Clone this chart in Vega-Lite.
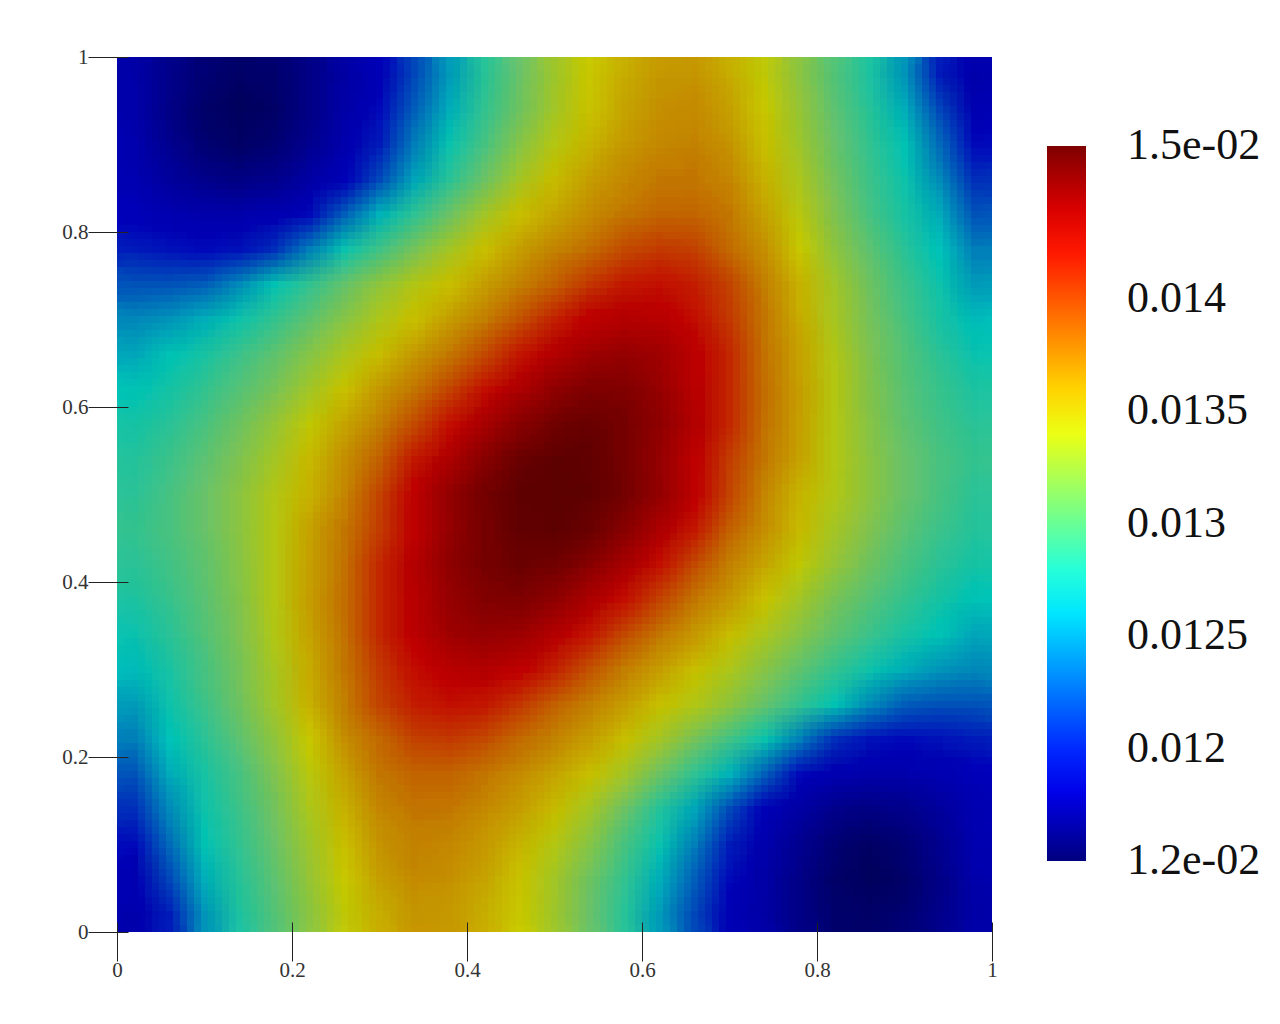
{"$schema":"https://vega.github.io/schema/vega-lite/v6.json","autosize":{"type":"none"},"padding":{"left":117,"top":57,"right":288,"bottom":92},"width":875,"height":875,"background":"white","view":{"stroke":null},"data":{"values":[
{"x":0.02,"y":0.98,"v":0.01185},{"x":0.06,"y":0.98,"v":0.0117},{"x":0.1,"y":0.98,"v":0.0116},{"x":0.14,"y":0.98,"v":0.01155},{"x":0.18,"y":0.98,"v":0.01158},{"x":0.22,"y":0.98,"v":0.01168},{"x":0.26,"y":0.98,"v":0.01182},{"x":0.3,"y":0.98,"v":0.01197},{"x":0.34,"y":0.98,"v":0.01219},{"x":0.38,"y":0.98,"v":0.0124},{"x":0.42,"y":0.98,"v":0.0127},{"x":0.46,"y":0.98,"v":0.013},{"x":0.5,"y":0.98,"v":0.01328},{"x":0.54,"y":0.98,"v":0.0135},{"x":0.58,"y":0.98,"v":0.01364},{"x":0.62,"y":0.98,"v":0.01374},{"x":0.66,"y":0.98,"v":0.01377},{"x":0.7,"y":0.98,"v":0.01364},{"x":0.74,"y":0.98,"v":0.01345},{"x":0.78,"y":0.98,"v":0.01318},{"x":0.82,"y":0.98,"v":0.0129},{"x":0.86,"y":0.98,"v":0.01265},{"x":0.9,"y":0.98,"v":0.01238},{"x":0.94,"y":0.98,"v":0.01208},{"x":0.98,"y":0.98,"v":0.01188},
{"x":0.02,"y":0.94,"v":0.01187},{"x":0.06,"y":0.94,"v":0.01168},{"x":0.1,"y":0.94,"v":0.01156},{"x":0.14,"y":0.94,"v":0.0115},{"x":0.18,"y":0.94,"v":0.01155},{"x":0.22,"y":0.94,"v":0.01168},{"x":0.26,"y":0.94,"v":0.01185},{"x":0.3,"y":0.94,"v":0.01203},{"x":0.34,"y":0.94,"v":0.01225},{"x":0.38,"y":0.94,"v":0.01245},{"x":0.42,"y":0.94,"v":0.01275},{"x":0.46,"y":0.94,"v":0.01303},{"x":0.5,"y":0.94,"v":0.0133},{"x":0.54,"y":0.94,"v":0.01352},{"x":0.58,"y":0.94,"v":0.01369},{"x":0.62,"y":0.94,"v":0.01379},{"x":0.66,"y":0.94,"v":0.01382},{"x":0.7,"y":0.94,"v":0.01371},{"x":0.74,"y":0.94,"v":0.0135},{"x":0.78,"y":0.94,"v":0.01323},{"x":0.82,"y":0.94,"v":0.01295},{"x":0.86,"y":0.94,"v":0.0127},{"x":0.9,"y":0.94,"v":0.01245},{"x":0.94,"y":0.94,"v":0.01219},{"x":0.98,"y":0.94,"v":0.01194},
{"x":0.02,"y":0.9,"v":0.01191},{"x":0.06,"y":0.9,"v":0.01172},{"x":0.1,"y":0.9,"v":0.0116},{"x":0.14,"y":0.9,"v":0.01154},{"x":0.18,"y":0.9,"v":0.0116},{"x":0.22,"y":0.9,"v":0.01172},{"x":0.26,"y":0.9,"v":0.01189},{"x":0.3,"y":0.9,"v":0.01208},{"x":0.34,"y":0.9,"v":0.01232},{"x":0.38,"y":0.9,"v":0.01256},{"x":0.42,"y":0.9,"v":0.01285},{"x":0.46,"y":0.9,"v":0.01315},{"x":0.5,"y":0.9,"v":0.0134},{"x":0.54,"y":0.9,"v":0.0136},{"x":0.58,"y":0.9,"v":0.01375},{"x":0.62,"y":0.9,"v":0.01384},{"x":0.66,"y":0.9,"v":0.01387},{"x":0.7,"y":0.9,"v":0.01378},{"x":0.74,"y":0.9,"v":0.01355},{"x":0.78,"y":0.9,"v":0.01328},{"x":0.82,"y":0.9,"v":0.013},{"x":0.86,"y":0.9,"v":0.01275},{"x":0.9,"y":0.9,"v":0.01253},{"x":0.94,"y":0.9,"v":0.01228},{"x":0.98,"y":0.9,"v":0.01203},
{"x":0.02,"y":0.86,"v":0.01193},{"x":0.06,"y":0.86,"v":0.01178},{"x":0.1,"y":0.86,"v":0.0117},{"x":0.14,"y":0.86,"v":0.01167},{"x":0.18,"y":0.86,"v":0.01171},{"x":0.22,"y":0.86,"v":0.01182},{"x":0.26,"y":0.86,"v":0.01198},{"x":0.3,"y":0.86,"v":0.0122},{"x":0.34,"y":0.86,"v":0.01243},{"x":0.38,"y":0.86,"v":0.01271},{"x":0.42,"y":0.86,"v":0.01302},{"x":0.46,"y":0.86,"v":0.01332},{"x":0.5,"y":0.86,"v":0.01357},{"x":0.54,"y":0.86,"v":0.01372},{"x":0.58,"y":0.86,"v":0.01383},{"x":0.62,"y":0.86,"v":0.01391},{"x":0.66,"y":0.86,"v":0.01393},{"x":0.7,"y":0.86,"v":0.01385},{"x":0.74,"y":0.86,"v":0.01362},{"x":0.78,"y":0.86,"v":0.01335},{"x":0.82,"y":0.86,"v":0.01305},{"x":0.86,"y":0.86,"v":0.0128},{"x":0.9,"y":0.86,"v":0.01258},{"x":0.94,"y":0.86,"v":0.01236},{"x":0.98,"y":0.86,"v":0.01213},
{"x":0.02,"y":0.82,"v":0.012},{"x":0.06,"y":0.82,"v":0.01192},{"x":0.1,"y":0.82,"v":0.01188},{"x":0.14,"y":0.82,"v":0.01187},{"x":0.18,"y":0.82,"v":0.01192},{"x":0.22,"y":0.82,"v":0.01203},{"x":0.26,"y":0.82,"v":0.01225},{"x":0.3,"y":0.82,"v":0.01246},{"x":0.34,"y":0.82,"v":0.01274},{"x":0.38,"y":0.82,"v":0.01302},{"x":0.42,"y":0.82,"v":0.0133},{"x":0.46,"y":0.82,"v":0.01355},{"x":0.5,"y":0.82,"v":0.01368},{"x":0.54,"y":0.82,"v":0.01382},{"x":0.58,"y":0.82,"v":0.01393},{"x":0.62,"y":0.82,"v":0.01401},{"x":0.66,"y":0.82,"v":0.01401},{"x":0.7,"y":0.82,"v":0.01392},{"x":0.74,"y":0.82,"v":0.0137},{"x":0.78,"y":0.82,"v":0.01342},{"x":0.82,"y":0.82,"v":0.01312},{"x":0.86,"y":0.82,"v":0.01285},{"x":0.9,"y":0.82,"v":0.01263},{"x":0.94,"y":0.82,"v":0.01244},{"x":0.98,"y":0.82,"v":0.01222},
{"x":0.02,"y":0.78,"v":0.01208},{"x":0.06,"y":0.78,"v":0.01205},{"x":0.1,"y":0.78,"v":0.01203},{"x":0.14,"y":0.78,"v":0.01205},{"x":0.18,"y":0.78,"v":0.01213},{"x":0.22,"y":0.78,"v":0.01232},{"x":0.26,"y":0.78,"v":0.01256},{"x":0.3,"y":0.78,"v":0.01282},{"x":0.34,"y":0.78,"v":0.01307},{"x":0.38,"y":0.78,"v":0.01332},{"x":0.42,"y":0.78,"v":0.01355},{"x":0.46,"y":0.78,"v":0.01372},{"x":0.5,"y":0.78,"v":0.01386},{"x":0.54,"y":0.78,"v":0.01398},{"x":0.58,"y":0.78,"v":0.01408},{"x":0.62,"y":0.78,"v":0.01413},{"x":0.66,"y":0.78,"v":0.01411},{"x":0.7,"y":0.78,"v":0.014},{"x":0.74,"y":0.78,"v":0.0138},{"x":0.78,"y":0.78,"v":0.0135},{"x":0.82,"y":0.78,"v":0.0132},{"x":0.86,"y":0.78,"v":0.01295},{"x":0.9,"y":0.78,"v":0.01272},{"x":0.94,"y":0.78,"v":0.0125},{"x":0.98,"y":0.78,"v":0.01232},
{"x":0.02,"y":0.74,"v":0.01222},{"x":0.06,"y":0.74,"v":0.01222},{"x":0.1,"y":0.74,"v":0.01224},{"x":0.14,"y":0.74,"v":0.01236},{"x":0.18,"y":0.74,"v":0.01254},{"x":0.22,"y":0.74,"v":0.01275},{"x":0.26,"y":0.74,"v":0.01298},{"x":0.3,"y":0.74,"v":0.0132},{"x":0.34,"y":0.74,"v":0.01338},{"x":0.38,"y":0.74,"v":0.01355},{"x":0.42,"y":0.74,"v":0.01372},{"x":0.46,"y":0.74,"v":0.01388},{"x":0.5,"y":0.74,"v":0.01402},{"x":0.54,"y":0.74,"v":0.01414},{"x":0.58,"y":0.74,"v":0.01422},{"x":0.62,"y":0.74,"v":0.01425},{"x":0.66,"y":0.74,"v":0.01421},{"x":0.7,"y":0.74,"v":0.0141},{"x":0.74,"y":0.74,"v":0.0139},{"x":0.78,"y":0.74,"v":0.01362},{"x":0.82,"y":0.74,"v":0.0133},{"x":0.86,"y":0.74,"v":0.01303},{"x":0.9,"y":0.74,"v":0.0128},{"x":0.94,"y":0.74,"v":0.01258},{"x":0.98,"y":0.74,"v":0.0124},
{"x":0.02,"y":0.7,"v":0.01235},{"x":0.06,"y":0.7,"v":0.01238},{"x":0.1,"y":0.7,"v":0.01245},{"x":0.14,"y":0.7,"v":0.01258},{"x":0.18,"y":0.7,"v":0.01276},{"x":0.22,"y":0.7,"v":0.01296},{"x":0.26,"y":0.7,"v":0.01316},{"x":0.3,"y":0.7,"v":0.01336},{"x":0.34,"y":0.7,"v":0.01354},{"x":0.38,"y":0.7,"v":0.01372},{"x":0.42,"y":0.7,"v":0.0139},{"x":0.46,"y":0.7,"v":0.01406},{"x":0.5,"y":0.7,"v":0.0142},{"x":0.54,"y":0.7,"v":0.01431},{"x":0.58,"y":0.7,"v":0.01436},{"x":0.62,"y":0.7,"v":0.01434},{"x":0.66,"y":0.7,"v":0.01426},{"x":0.7,"y":0.7,"v":0.01413},{"x":0.74,"y":0.7,"v":0.01392},{"x":0.78,"y":0.7,"v":0.01365},{"x":0.82,"y":0.7,"v":0.01333},{"x":0.86,"y":0.7,"v":0.01307},{"x":0.9,"y":0.7,"v":0.01285},{"x":0.94,"y":0.7,"v":0.01264},{"x":0.98,"y":0.7,"v":0.01248},
{"x":0.02,"y":0.66,"v":0.01243},{"x":0.06,"y":0.66,"v":0.01252},{"x":0.1,"y":0.66,"v":0.01264},{"x":0.14,"y":0.66,"v":0.01279},{"x":0.18,"y":0.66,"v":0.01296},{"x":0.22,"y":0.66,"v":0.01315},{"x":0.26,"y":0.66,"v":0.01335},{"x":0.3,"y":0.66,"v":0.01356},{"x":0.34,"y":0.66,"v":0.01375},{"x":0.38,"y":0.66,"v":0.01392},{"x":0.42,"y":0.66,"v":0.01408},{"x":0.46,"y":0.66,"v":0.01423},{"x":0.5,"y":0.66,"v":0.01435},{"x":0.54,"y":0.66,"v":0.01444},{"x":0.58,"y":0.66,"v":0.01447},{"x":0.62,"y":0.66,"v":0.01443},{"x":0.66,"y":0.66,"v":0.01433},{"x":0.7,"y":0.66,"v":0.01418},{"x":0.74,"y":0.66,"v":0.01396},{"x":0.78,"y":0.66,"v":0.0137},{"x":0.82,"y":0.66,"v":0.01338},{"x":0.86,"y":0.66,"v":0.0131},{"x":0.9,"y":0.66,"v":0.0129},{"x":0.94,"y":0.66,"v":0.01272},{"x":0.98,"y":0.66,"v":0.01256},
{"x":0.02,"y":0.62,"v":0.01252},{"x":0.06,"y":0.62,"v":0.01262},{"x":0.1,"y":0.62,"v":0.01276},{"x":0.14,"y":0.62,"v":0.01291},{"x":0.18,"y":0.62,"v":0.01308},{"x":0.22,"y":0.62,"v":0.0133},{"x":0.26,"y":0.62,"v":0.01353},{"x":0.3,"y":0.62,"v":0.01375},{"x":0.34,"y":0.62,"v":0.01393},{"x":0.38,"y":0.62,"v":0.0141},{"x":0.42,"y":0.62,"v":0.01425},{"x":0.46,"y":0.62,"v":0.01438},{"x":0.5,"y":0.62,"v":0.01449},{"x":0.54,"y":0.62,"v":0.01456},{"x":0.58,"y":0.62,"v":0.01454},{"x":0.62,"y":0.62,"v":0.01446},{"x":0.66,"y":0.62,"v":0.01434},{"x":0.7,"y":0.62,"v":0.01418},{"x":0.74,"y":0.62,"v":0.01397},{"x":0.78,"y":0.62,"v":0.01372},{"x":0.82,"y":0.62,"v":0.0134},{"x":0.86,"y":0.62,"v":0.01313},{"x":0.9,"y":0.62,"v":0.01293},{"x":0.94,"y":0.62,"v":0.01277},{"x":0.98,"y":0.62,"v":0.01265},
{"x":0.02,"y":0.58,"v":0.01262},{"x":0.06,"y":0.58,"v":0.01272},{"x":0.1,"y":0.58,"v":0.01286},{"x":0.14,"y":0.58,"v":0.01303},{"x":0.18,"y":0.58,"v":0.01323},{"x":0.22,"y":0.58,"v":0.01346},{"x":0.26,"y":0.58,"v":0.01368},{"x":0.3,"y":0.58,"v":0.01388},{"x":0.34,"y":0.58,"v":0.01408},{"x":0.38,"y":0.58,"v":0.01425},{"x":0.42,"y":0.58,"v":0.0144},{"x":0.46,"y":0.58,"v":0.01452},{"x":0.5,"y":0.58,"v":0.0146},{"x":0.54,"y":0.58,"v":0.01463},{"x":0.58,"y":0.58,"v":0.01458},{"x":0.62,"y":0.58,"v":0.01449},{"x":0.66,"y":0.58,"v":0.01435},{"x":0.7,"y":0.58,"v":0.01418},{"x":0.74,"y":0.58,"v":0.01396},{"x":0.78,"y":0.58,"v":0.01371},{"x":0.82,"y":0.58,"v":0.0134},{"x":0.86,"y":0.58,"v":0.01315},{"x":0.9,"y":0.58,"v":0.01296},{"x":0.94,"y":0.58,"v":0.01282},{"x":0.98,"y":0.58,"v":0.01272},
{"x":0.02,"y":0.54,"v":0.01268},{"x":0.06,"y":0.54,"v":0.01279},{"x":0.1,"y":0.54,"v":0.01294},{"x":0.14,"y":0.54,"v":0.01312},{"x":0.18,"y":0.54,"v":0.01332},{"x":0.22,"y":0.54,"v":0.01358},{"x":0.26,"y":0.54,"v":0.0138},{"x":0.3,"y":0.54,"v":0.01402},{"x":0.34,"y":0.54,"v":0.01422},{"x":0.38,"y":0.54,"v":0.01438},{"x":0.42,"y":0.54,"v":0.01452},{"x":0.46,"y":0.54,"v":0.01462},{"x":0.5,"y":0.54,"v":0.01467},{"x":0.54,"y":0.54,"v":0.01465},{"x":0.58,"y":0.54,"v":0.01458},{"x":0.62,"y":0.54,"v":0.01447},{"x":0.66,"y":0.54,"v":0.01431},{"x":0.7,"y":0.54,"v":0.01412},{"x":0.74,"y":0.54,"v":0.01392},{"x":0.78,"y":0.54,"v":0.0137},{"x":0.82,"y":0.54,"v":0.0134},{"x":0.86,"y":0.54,"v":0.01318},{"x":0.9,"y":0.54,"v":0.013},{"x":0.94,"y":0.54,"v":0.01286},{"x":0.98,"y":0.54,"v":0.01276},
{"x":0.02,"y":0.5,"v":0.01272},{"x":0.06,"y":0.5,"v":0.01285},{"x":0.1,"y":0.5,"v":0.013},{"x":0.14,"y":0.5,"v":0.01318},{"x":0.18,"y":0.5,"v":0.01338},{"x":0.22,"y":0.5,"v":0.0136},{"x":0.26,"y":0.5,"v":0.01385},{"x":0.3,"y":0.5,"v":0.0141},{"x":0.34,"y":0.5,"v":0.01432},{"x":0.38,"y":0.5,"v":0.01448},{"x":0.42,"y":0.5,"v":0.01459},{"x":0.46,"y":0.5,"v":0.01466},{"x":0.5,"y":0.5,"v":0.01468},{"x":0.54,"y":0.5,"v":0.01466},{"x":0.58,"y":0.5,"v":0.01459},{"x":0.62,"y":0.5,"v":0.01448},{"x":0.66,"y":0.5,"v":0.01432},{"x":0.7,"y":0.5,"v":0.0141},{"x":0.74,"y":0.5,"v":0.01385},{"x":0.78,"y":0.5,"v":0.0136},{"x":0.82,"y":0.5,"v":0.01338},{"x":0.86,"y":0.5,"v":0.01318},{"x":0.9,"y":0.5,"v":0.013},{"x":0.94,"y":0.5,"v":0.01285},{"x":0.98,"y":0.5,"v":0.01272},
{"x":0.02,"y":0.46,"v":0.01276},{"x":0.06,"y":0.46,"v":0.01286},{"x":0.1,"y":0.46,"v":0.013},{"x":0.14,"y":0.46,"v":0.01318},{"x":0.18,"y":0.46,"v":0.0134},{"x":0.22,"y":0.46,"v":0.0137},{"x":0.26,"y":0.46,"v":0.01392},{"x":0.3,"y":0.46,"v":0.01412},{"x":0.34,"y":0.46,"v":0.01431},{"x":0.38,"y":0.46,"v":0.01447},{"x":0.42,"y":0.46,"v":0.01458},{"x":0.46,"y":0.46,"v":0.01465},{"x":0.5,"y":0.46,"v":0.01467},{"x":0.54,"y":0.46,"v":0.01462},{"x":0.58,"y":0.46,"v":0.01452},{"x":0.62,"y":0.46,"v":0.01438},{"x":0.66,"y":0.46,"v":0.01422},{"x":0.7,"y":0.46,"v":0.01402},{"x":0.74,"y":0.46,"v":0.0138},{"x":0.78,"y":0.46,"v":0.01358},{"x":0.82,"y":0.46,"v":0.01332},{"x":0.86,"y":0.46,"v":0.01312},{"x":0.9,"y":0.46,"v":0.01294},{"x":0.94,"y":0.46,"v":0.01279},{"x":0.98,"y":0.46,"v":0.01268},
{"x":0.02,"y":0.42,"v":0.01272},{"x":0.06,"y":0.42,"v":0.01282},{"x":0.1,"y":0.42,"v":0.01296},{"x":0.14,"y":0.42,"v":0.01315},{"x":0.18,"y":0.42,"v":0.0134},{"x":0.22,"y":0.42,"v":0.01371},{"x":0.26,"y":0.42,"v":0.01396},{"x":0.3,"y":0.42,"v":0.01418},{"x":0.34,"y":0.42,"v":0.01435},{"x":0.38,"y":0.42,"v":0.01449},{"x":0.42,"y":0.42,"v":0.01458},{"x":0.46,"y":0.42,"v":0.01463},{"x":0.5,"y":0.42,"v":0.0146},{"x":0.54,"y":0.42,"v":0.01452},{"x":0.58,"y":0.42,"v":0.0144},{"x":0.62,"y":0.42,"v":0.01425},{"x":0.66,"y":0.42,"v":0.01408},{"x":0.7,"y":0.42,"v":0.01388},{"x":0.74,"y":0.42,"v":0.01368},{"x":0.78,"y":0.42,"v":0.01346},{"x":0.82,"y":0.42,"v":0.01323},{"x":0.86,"y":0.42,"v":0.01303},{"x":0.9,"y":0.42,"v":0.01286},{"x":0.94,"y":0.42,"v":0.01272},{"x":0.98,"y":0.42,"v":0.01262},
{"x":0.02,"y":0.38,"v":0.01265},{"x":0.06,"y":0.38,"v":0.01277},{"x":0.1,"y":0.38,"v":0.01293},{"x":0.14,"y":0.38,"v":0.01313},{"x":0.18,"y":0.38,"v":0.0134},{"x":0.22,"y":0.38,"v":0.01372},{"x":0.26,"y":0.38,"v":0.01397},{"x":0.3,"y":0.38,"v":0.01418},{"x":0.34,"y":0.38,"v":0.01434},{"x":0.38,"y":0.38,"v":0.01446},{"x":0.42,"y":0.38,"v":0.01454},{"x":0.46,"y":0.38,"v":0.01456},{"x":0.5,"y":0.38,"v":0.01449},{"x":0.54,"y":0.38,"v":0.01438},{"x":0.58,"y":0.38,"v":0.01425},{"x":0.62,"y":0.38,"v":0.0141},{"x":0.66,"y":0.38,"v":0.01393},{"x":0.7,"y":0.38,"v":0.01375},{"x":0.74,"y":0.38,"v":0.01353},{"x":0.78,"y":0.38,"v":0.0133},{"x":0.82,"y":0.38,"v":0.01308},{"x":0.86,"y":0.38,"v":0.01291},{"x":0.9,"y":0.38,"v":0.01276},{"x":0.94,"y":0.38,"v":0.01262},{"x":0.98,"y":0.38,"v":0.01252},
{"x":0.02,"y":0.34,"v":0.01256},{"x":0.06,"y":0.34,"v":0.01272},{"x":0.1,"y":0.34,"v":0.0129},{"x":0.14,"y":0.34,"v":0.0131},{"x":0.18,"y":0.34,"v":0.01338},{"x":0.22,"y":0.34,"v":0.0137},{"x":0.26,"y":0.34,"v":0.01396},{"x":0.3,"y":0.34,"v":0.01418},{"x":0.34,"y":0.34,"v":0.01433},{"x":0.38,"y":0.34,"v":0.01443},{"x":0.42,"y":0.34,"v":0.01447},{"x":0.46,"y":0.34,"v":0.01444},{"x":0.5,"y":0.34,"v":0.01435},{"x":0.54,"y":0.34,"v":0.01423},{"x":0.58,"y":0.34,"v":0.01408},{"x":0.62,"y":0.34,"v":0.01392},{"x":0.66,"y":0.34,"v":0.01375},{"x":0.7,"y":0.34,"v":0.01356},{"x":0.74,"y":0.34,"v":0.01335},{"x":0.78,"y":0.34,"v":0.01315},{"x":0.82,"y":0.34,"v":0.01296},{"x":0.86,"y":0.34,"v":0.01279},{"x":0.9,"y":0.34,"v":0.01264},{"x":0.94,"y":0.34,"v":0.01252},{"x":0.98,"y":0.34,"v":0.01243},
{"x":0.02,"y":0.3,"v":0.01248},{"x":0.06,"y":0.3,"v":0.01264},{"x":0.1,"y":0.3,"v":0.01285},{"x":0.14,"y":0.3,"v":0.01307},{"x":0.18,"y":0.3,"v":0.01333},{"x":0.22,"y":0.3,"v":0.01365},{"x":0.26,"y":0.3,"v":0.01392},{"x":0.3,"y":0.3,"v":0.01413},{"x":0.34,"y":0.3,"v":0.01426},{"x":0.38,"y":0.3,"v":0.01434},{"x":0.42,"y":0.3,"v":0.01436},{"x":0.46,"y":0.3,"v":0.01431},{"x":0.5,"y":0.3,"v":0.0142},{"x":0.54,"y":0.3,"v":0.01406},{"x":0.58,"y":0.3,"v":0.0139},{"x":0.62,"y":0.3,"v":0.01372},{"x":0.66,"y":0.3,"v":0.01354},{"x":0.7,"y":0.3,"v":0.01336},{"x":0.74,"y":0.3,"v":0.01316},{"x":0.78,"y":0.3,"v":0.01296},{"x":0.82,"y":0.3,"v":0.01276},{"x":0.86,"y":0.3,"v":0.01258},{"x":0.9,"y":0.3,"v":0.01245},{"x":0.94,"y":0.3,"v":0.01238},{"x":0.98,"y":0.3,"v":0.01235},
{"x":0.02,"y":0.26,"v":0.0124},{"x":0.06,"y":0.26,"v":0.01258},{"x":0.1,"y":0.26,"v":0.0128},{"x":0.14,"y":0.26,"v":0.01303},{"x":0.18,"y":0.26,"v":0.0133},{"x":0.22,"y":0.26,"v":0.01362},{"x":0.26,"y":0.26,"v":0.0139},{"x":0.3,"y":0.26,"v":0.0141},{"x":0.34,"y":0.26,"v":0.01421},{"x":0.38,"y":0.26,"v":0.01425},{"x":0.42,"y":0.26,"v":0.01422},{"x":0.46,"y":0.26,"v":0.01414},{"x":0.5,"y":0.26,"v":0.01402},{"x":0.54,"y":0.26,"v":0.01388},{"x":0.58,"y":0.26,"v":0.01372},{"x":0.62,"y":0.26,"v":0.01355},{"x":0.66,"y":0.26,"v":0.01338},{"x":0.7,"y":0.26,"v":0.0132},{"x":0.74,"y":0.26,"v":0.01298},{"x":0.78,"y":0.26,"v":0.01275},{"x":0.82,"y":0.26,"v":0.01254},{"x":0.86,"y":0.26,"v":0.01236},{"x":0.9,"y":0.26,"v":0.01224},{"x":0.94,"y":0.26,"v":0.01222},{"x":0.98,"y":0.26,"v":0.01222},
{"x":0.02,"y":0.22,"v":0.01232},{"x":0.06,"y":0.22,"v":0.0125},{"x":0.1,"y":0.22,"v":0.01272},{"x":0.14,"y":0.22,"v":0.01295},{"x":0.18,"y":0.22,"v":0.0132},{"x":0.22,"y":0.22,"v":0.0135},{"x":0.26,"y":0.22,"v":0.0138},{"x":0.3,"y":0.22,"v":0.014},{"x":0.34,"y":0.22,"v":0.01411},{"x":0.38,"y":0.22,"v":0.01413},{"x":0.42,"y":0.22,"v":0.01408},{"x":0.46,"y":0.22,"v":0.01398},{"x":0.5,"y":0.22,"v":0.01386},{"x":0.54,"y":0.22,"v":0.01372},{"x":0.58,"y":0.22,"v":0.01355},{"x":0.62,"y":0.22,"v":0.01332},{"x":0.66,"y":0.22,"v":0.01307},{"x":0.7,"y":0.22,"v":0.01282},{"x":0.74,"y":0.22,"v":0.01256},{"x":0.78,"y":0.22,"v":0.01232},{"x":0.82,"y":0.22,"v":0.01213},{"x":0.86,"y":0.22,"v":0.01205},{"x":0.9,"y":0.22,"v":0.01203},{"x":0.94,"y":0.22,"v":0.01205},{"x":0.98,"y":0.22,"v":0.01208},
{"x":0.02,"y":0.18,"v":0.01222},{"x":0.06,"y":0.18,"v":0.01244},{"x":0.1,"y":0.18,"v":0.01263},{"x":0.14,"y":0.18,"v":0.01285},{"x":0.18,"y":0.18,"v":0.01312},{"x":0.22,"y":0.18,"v":0.01342},{"x":0.26,"y":0.18,"v":0.0137},{"x":0.3,"y":0.18,"v":0.01392},{"x":0.34,"y":0.18,"v":0.01401},{"x":0.38,"y":0.18,"v":0.01401},{"x":0.42,"y":0.18,"v":0.01393},{"x":0.46,"y":0.18,"v":0.01382},{"x":0.5,"y":0.18,"v":0.01368},{"x":0.54,"y":0.18,"v":0.01355},{"x":0.58,"y":0.18,"v":0.0133},{"x":0.62,"y":0.18,"v":0.01302},{"x":0.66,"y":0.18,"v":0.01274},{"x":0.7,"y":0.18,"v":0.01246},{"x":0.74,"y":0.18,"v":0.01225},{"x":0.78,"y":0.18,"v":0.01203},{"x":0.82,"y":0.18,"v":0.01192},{"x":0.86,"y":0.18,"v":0.01187},{"x":0.9,"y":0.18,"v":0.01188},{"x":0.94,"y":0.18,"v":0.01192},{"x":0.98,"y":0.18,"v":0.012},
{"x":0.02,"y":0.14,"v":0.01213},{"x":0.06,"y":0.14,"v":0.01236},{"x":0.1,"y":0.14,"v":0.01258},{"x":0.14,"y":0.14,"v":0.0128},{"x":0.18,"y":0.14,"v":0.01305},{"x":0.22,"y":0.14,"v":0.01335},{"x":0.26,"y":0.14,"v":0.01362},{"x":0.3,"y":0.14,"v":0.01385},{"x":0.34,"y":0.14,"v":0.01393},{"x":0.38,"y":0.14,"v":0.01391},{"x":0.42,"y":0.14,"v":0.01383},{"x":0.46,"y":0.14,"v":0.01372},{"x":0.5,"y":0.14,"v":0.01357},{"x":0.54,"y":0.14,"v":0.01332},{"x":0.58,"y":0.14,"v":0.01302},{"x":0.62,"y":0.14,"v":0.01268},{"x":0.66,"y":0.14,"v":0.01243},{"x":0.7,"y":0.14,"v":0.0122},{"x":0.74,"y":0.14,"v":0.01198},{"x":0.78,"y":0.14,"v":0.01182},{"x":0.82,"y":0.14,"v":0.01171},{"x":0.86,"y":0.14,"v":0.01167},{"x":0.9,"y":0.14,"v":0.0117},{"x":0.94,"y":0.14,"v":0.01178},{"x":0.98,"y":0.14,"v":0.01193},
{"x":0.02,"y":0.1,"v":0.01203},{"x":0.06,"y":0.1,"v":0.01228},{"x":0.1,"y":0.1,"v":0.01253},{"x":0.14,"y":0.1,"v":0.01275},{"x":0.18,"y":0.1,"v":0.013},{"x":0.22,"y":0.1,"v":0.01328},{"x":0.26,"y":0.1,"v":0.01355},{"x":0.3,"y":0.1,"v":0.01378},{"x":0.34,"y":0.1,"v":0.01387},{"x":0.38,"y":0.1,"v":0.01384},{"x":0.42,"y":0.1,"v":0.01375},{"x":0.46,"y":0.1,"v":0.0136},{"x":0.5,"y":0.1,"v":0.0134},{"x":0.54,"y":0.1,"v":0.01315},{"x":0.58,"y":0.1,"v":0.01285},{"x":0.62,"y":0.1,"v":0.01256},{"x":0.66,"y":0.1,"v":0.01232},{"x":0.7,"y":0.1,"v":0.01208},{"x":0.74,"y":0.1,"v":0.01189},{"x":0.78,"y":0.1,"v":0.01172},{"x":0.82,"y":0.1,"v":0.0116},{"x":0.86,"y":0.1,"v":0.01154},{"x":0.9,"y":0.1,"v":0.0116},{"x":0.94,"y":0.1,"v":0.01172},{"x":0.98,"y":0.1,"v":0.01191},
{"x":0.02,"y":0.06,"v":0.01194},{"x":0.06,"y":0.06,"v":0.01219},{"x":0.1,"y":0.06,"v":0.01245},{"x":0.14,"y":0.06,"v":0.0127},{"x":0.18,"y":0.06,"v":0.01295},{"x":0.22,"y":0.06,"v":0.01323},{"x":0.26,"y":0.06,"v":0.0135},{"x":0.3,"y":0.06,"v":0.01371},{"x":0.34,"y":0.06,"v":0.01382},{"x":0.38,"y":0.06,"v":0.01379},{"x":0.42,"y":0.06,"v":0.01369},{"x":0.46,"y":0.06,"v":0.01352},{"x":0.5,"y":0.06,"v":0.0133},{"x":0.54,"y":0.06,"v":0.01303},{"x":0.58,"y":0.06,"v":0.01275},{"x":0.62,"y":0.06,"v":0.01245},{"x":0.66,"y":0.06,"v":0.01225},{"x":0.7,"y":0.06,"v":0.01203},{"x":0.74,"y":0.06,"v":0.01185},{"x":0.78,"y":0.06,"v":0.01168},{"x":0.82,"y":0.06,"v":0.01155},{"x":0.86,"y":0.06,"v":0.0115},{"x":0.9,"y":0.06,"v":0.01156},{"x":0.94,"y":0.06,"v":0.01168},{"x":0.98,"y":0.06,"v":0.01187},
{"x":0.02,"y":0.02,"v":0.01188},{"x":0.06,"y":0.02,"v":0.01208},{"x":0.1,"y":0.02,"v":0.01238},{"x":0.14,"y":0.02,"v":0.01265},{"x":0.18,"y":0.02,"v":0.0129},{"x":0.22,"y":0.02,"v":0.01318},{"x":0.26,"y":0.02,"v":0.01345},{"x":0.3,"y":0.02,"v":0.01364},{"x":0.34,"y":0.02,"v":0.01377},{"x":0.38,"y":0.02,"v":0.01374},{"x":0.42,"y":0.02,"v":0.01364},{"x":0.46,"y":0.02,"v":0.0135},{"x":0.5,"y":0.02,"v":0.01328},{"x":0.54,"y":0.02,"v":0.013},{"x":0.58,"y":0.02,"v":0.0127},{"x":0.62,"y":0.02,"v":0.0124},{"x":0.66,"y":0.02,"v":0.01219},{"x":0.7,"y":0.02,"v":0.01197},{"x":0.74,"y":0.02,"v":0.01182},{"x":0.78,"y":0.02,"v":0.01168},{"x":0.82,"y":0.02,"v":0.01158},{"x":0.86,"y":0.02,"v":0.01155},{"x":0.9,"y":0.02,"v":0.0116},{"x":0.94,"y":0.02,"v":0.0117},{"x":0.98,"y":0.02,"v":0.01185}
]},
"encoding":{
"x":{"field":"x","type":"quantitative","scale":{"domain":[0,1],"nice":false,"zero":false},"axis":{"title":null,"values":[0,0.2,0.4,0.6,0.8,1],"format":"~g","grid":false,"domain":false,"offset":-10,"tickSize":39,"tickColor":"#222222","tickWidth":1,"labelPadding":-2,"labelFont":"Liberation Serif","labelFontSize":21,"labelColor":"#333333","labelOverlap":false,"labelFlush":false,"labelBound":false,"zindex":1}},
"y":{"field":"y","type":"quantitative","scale":{"domain":[0,1],"nice":false,"zero":false},"axis":{"title":null,"values":[0,0.2,0.4,0.6,0.8,1],"format":"~g","grid":false,"domain":false,"offset":-11,"tickSize":40,"tickColor":"#222222","tickWidth":1,"labelPadding":0,"labelFont":"Liberation Serif","labelFontSize":21,"labelColor":"#333333","labelOverlap":false,"labelFlush":false,"labelBound":false,"zindex":1}}
},
"layer":[
{"mark":{"type":"rect","width":35,"height":35},"encoding":{"color":{"field":"v","type":"quantitative","scale":{"domain":[0.0115,0.01187,0.01268,0.01346,0.01428,0.01468],"range":["#00007f","#0000ff","#00ffff","#ffff00","#ff0000","#7f0000"],"interpolate":"rgb"},"legend":{"title":null,"orient":"none","legendX":930,"legendY":89,"type":"gradient","direction":"vertical","gradientLength":715,"gradientThickness":39,"gradientStrokeWidth":0,"values":[0.0115,0.012,0.0125,0.013,0.0135,0.014,0.01468],"labelExpr":"datum.value<0.0116?'1.2e-02':datum.value>0.0146?'1.5e-02':format(datum.value,'~g')","labelFont":"Liberation Serif","labelFontSize":44,"labelColor":"#111111","labelOffset":41,"labelOverlap":false,"labelLimit":200,"encoding":{"labels":{"baseline":{"value":"middle"},"dy":{"signal":"datum.value<0.0116||datum.value>0.0146?-3:0"}}}}}}},
{"encoding":{"color":{"field":"v","type":"quantitative","scale":{"domain":[0.0115,0.0118,0.012,0.0125,0.013,0.0135,0.014,0.0143,0.01468],"range":["#000060","#0000a8","#0000be","#00c8be","#6ec86e","#cdcd00","#c86e00","#c80000","#600000"],"interpolate":"rgb"},"legend":null}},
"layer":[
{"mark":{"type":"rect","width":35,"height":35,"clip":true}},
{"mark":{"type":"rect","width":35,"height":35,"clip":true,"opacity":0.5,"xOffset":7,"yOffset":7}},
{"mark":{"type":"rect","width":35,"height":35,"clip":true,"opacity":0.3333,"xOffset":-7,"yOffset":-7}},
{"mark":{"type":"rect","width":35,"height":35,"clip":true,"opacity":0.25,"xOffset":7,"yOffset":-7}},
{"mark":{"type":"rect","width":35,"height":35,"clip":true,"opacity":0.2,"xOffset":-7,"yOffset":7}},
{"mark":{"type":"rect","width":35,"height":35,"clip":true,"opacity":0.1667,"xOffset":14,"yOffset":0}},
{"mark":{"type":"rect","width":35,"height":35,"clip":true,"opacity":0.1429,"xOffset":-14,"yOffset":0}},
{"mark":{"type":"rect","width":35,"height":35,"clip":true,"opacity":0.125,"xOffset":0,"yOffset":14}},
{"mark":{"type":"rect","width":35,"height":35,"clip":true,"opacity":0.1111,"xOffset":0,"yOffset":-14}},
{"mark":{"type":"rect","width":35,"height":35,"clip":true,"opacity":0.1,"xOffset":7,"yOffset":0}},
{"mark":{"type":"rect","width":35,"height":35,"clip":true,"opacity":0.0909,"xOffset":-7,"yOffset":0}},
{"mark":{"type":"rect","width":35,"height":35,"clip":true,"opacity":0.0833,"xOffset":0,"yOffset":7}},
{"mark":{"type":"rect","width":35,"height":35,"clip":true,"opacity":0.0769,"xOffset":0,"yOffset":-7}},
{"mark":{"type":"rect","width":35,"height":35,"clip":true,"opacity":0.0714,"xOffset":14,"yOffset":14}},
{"mark":{"type":"rect","width":35,"height":35,"clip":true,"opacity":0.0667,"xOffset":-14,"yOffset":-14}},
{"mark":{"type":"rect","width":35,"height":35,"clip":true,"opacity":0.0625,"xOffset":14,"yOffset":-14}},
{"mark":{"type":"rect","width":35,"height":35,"clip":true,"opacity":0.0588,"xOffset":-14,"yOffset":14}},
{"mark":{"type":"rect","width":35,"height":35,"clip":true,"opacity":0.0556,"xOffset":14,"yOffset":7}},
{"mark":{"type":"rect","width":35,"height":35,"clip":true,"opacity":0.0526,"xOffset":-14,"yOffset":-7}},
{"mark":{"type":"rect","width":35,"height":35,"clip":true,"opacity":0.05,"xOffset":14,"yOffset":-7}},
{"mark":{"type":"rect","width":35,"height":35,"clip":true,"opacity":0.0476,"xOffset":-14,"yOffset":7}},
{"mark":{"type":"rect","width":35,"height":35,"clip":true,"opacity":0.0455,"xOffset":7,"yOffset":14}},
{"mark":{"type":"rect","width":35,"height":35,"clip":true,"opacity":0.0435,"xOffset":-7,"yOffset":-14}},
{"mark":{"type":"rect","width":35,"height":35,"clip":true,"opacity":0.0417,"xOffset":7,"yOffset":-14}},
{"mark":{"type":"rect","width":35,"height":35,"clip":true,"opacity":0.04,"xOffset":-7,"yOffset":14}}
]}
],
"resolve":{"scale":{"color":"independent"}}
}
